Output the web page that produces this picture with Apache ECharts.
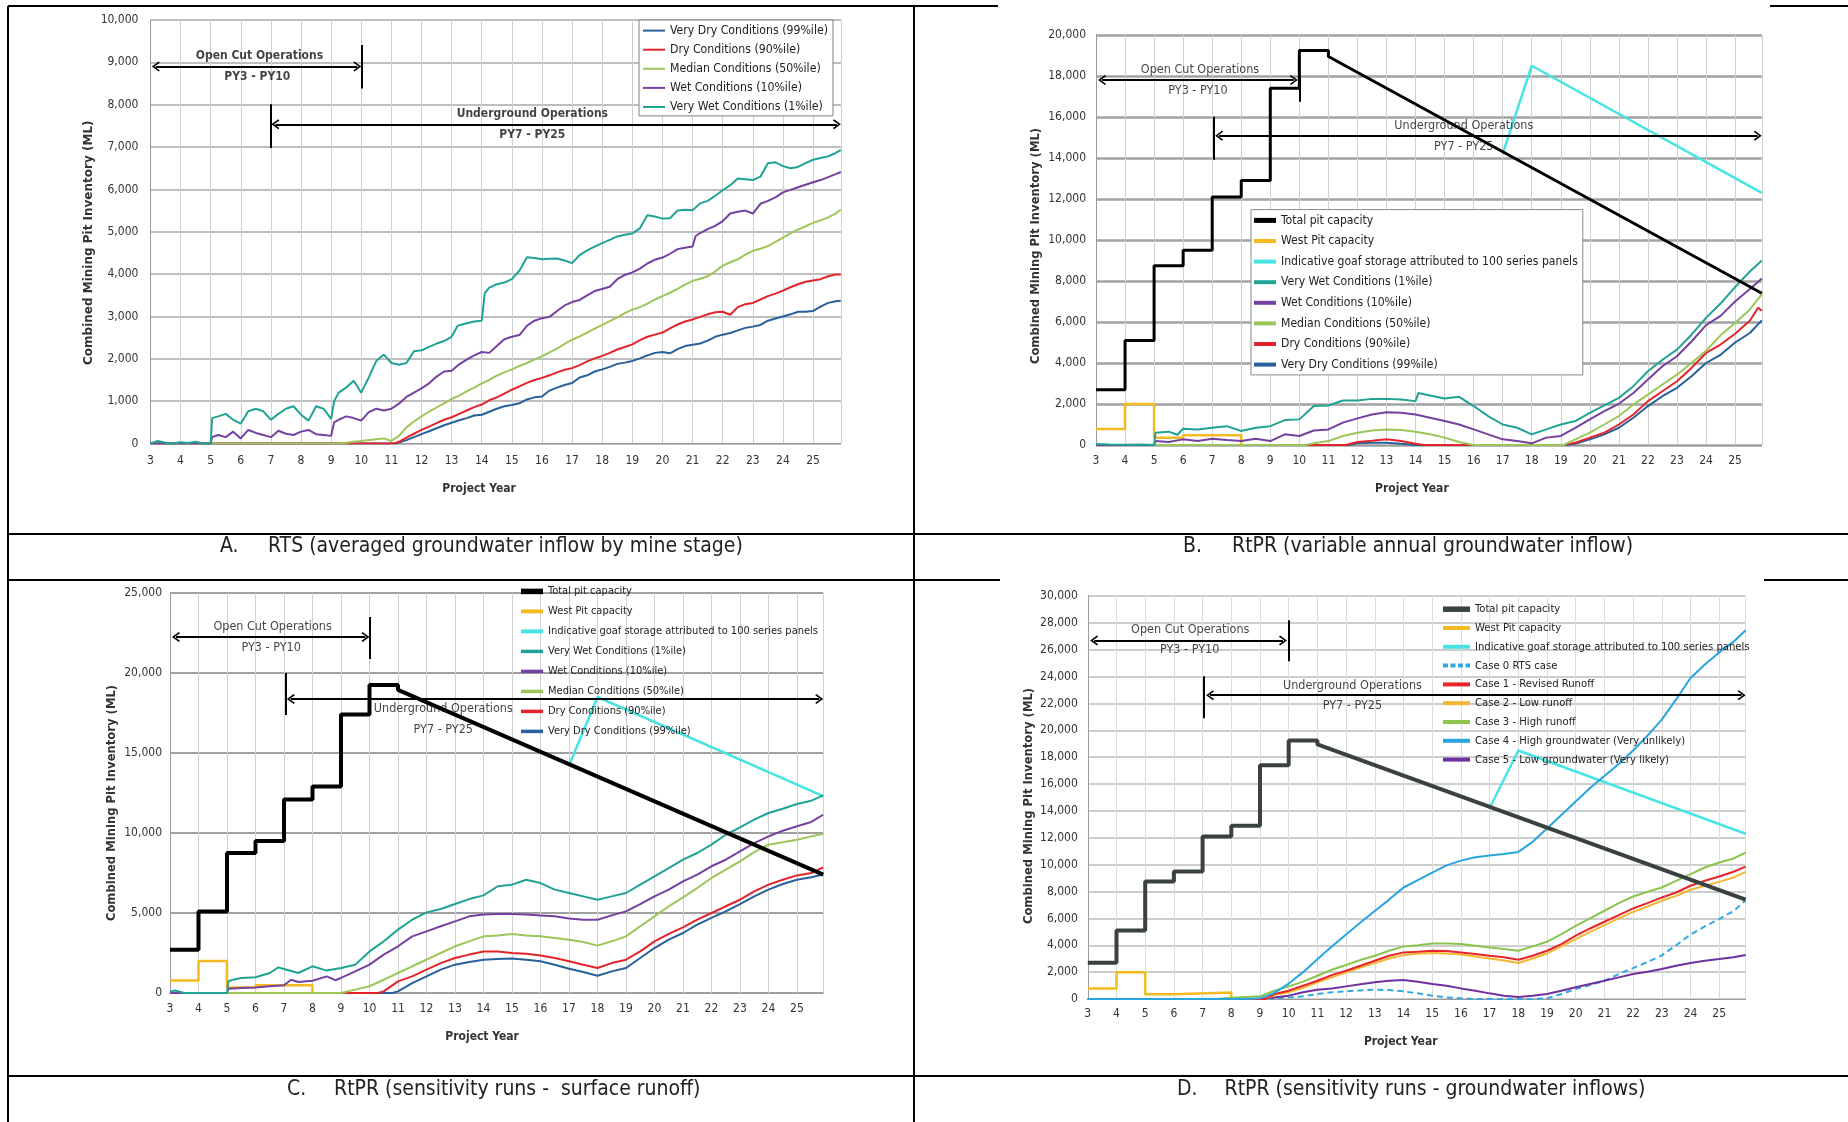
<!DOCTYPE html>
<html><head><meta charset="utf-8">
<script src="https://cdn.jsdelivr.net/npm/echarts@6/dist/echarts.min.js"></script>
<style>html,body{margin:0;padding:0;background:#fff}#c{width:1848px;height:1122px}</style>
</head><body><div id="c"></div>
<script>
// ---------------- DATA ----------------
const yearTicks = [3,4,5,6,7,8,9,10,11,12,13,14,15,16,17,18,19,20,21,22,23,24,25];
const yearEnd = 25.92;

// Panel A
const veryWetA = [[3,0],[3.25,60],[3.5,20],[3.75,0],[4,30],[4.25,10],[4.5,40],[4.75,0],[5,0],[5.05,600],[5.25,640],[5.5,700],[5.75,560],[6,470],[6.25,760],[6.5,820],[6.75,760],[7,560],[7.25,700],[7.5,820],[7.75,880],[8,680],[8.25,540],[8.5,880],[8.75,820],[9,580],[9.1,1000],[9.25,1200],[9.5,1320],[9.75,1480],[10,1200],[10.25,1560],[10.5,1950],[10.75,2100],[11,1900],[11.25,1860],[11.5,1900],[11.75,2180],[12,2200],[12.25,2280],[12.5,2360],[12.75,2420],[13,2520],[13.2,2780],[13.5,2840],[13.75,2880],[14,2900],[14.05,2870],[14.1,3550],[14.25,3680],[14.5,3760],[14.75,3800],[15,3880],[15.25,4080],[15.5,4400],[15.75,4380],[16,4350],[16.25,4360],[16.5,4370],[16.75,4320],[17,4260],[17.25,4450],[17.5,4560],[17.75,4650],[18,4730],[18.25,4810],[18.5,4890],[18.75,4930],[19,4960],[19.25,5080],[19.5,5390],[19.75,5360],[20,5310],[20.25,5320],[20.5,5500],[20.75,5520],[21,5510],[21.25,5670],[21.5,5730],[21.75,5850],[22,5980],[22.25,6100],[22.5,6260],[22.75,6240],[23,6220],[23.25,6300],[23.5,6620],[23.75,6640],[24,6550],[24.25,6500],[24.5,6530],[24.75,6620],[25,6700],[25.25,6740],[25.5,6780],[25.75,6860],[25.92,6930]];
const wetA = [[3,0],[5,0],[5.05,150],[5.25,200],[5.5,150],[5.75,280],[6,120],[6.25,320],[6.5,250],[6.75,200],[7,150],[7.25,300],[7.5,230],[7.75,200],[8,280],[8.25,320],[8.5,220],[8.75,200],[9,180],[9.1,500],[9.25,560],[9.5,640],[9.75,600],[10,540],[10.25,740],[10.5,820],[10.75,780],[11,820],[11.25,940],[11.5,1100],[11.75,1200],[12,1300],[12.25,1420],[12.5,1580],[12.75,1700],[13,1720],[13.25,1870],[13.5,1980],[13.75,2080],[14,2160],[14.25,2140],[14.5,2300],[14.75,2460],[15,2520],[15.25,2560],[15.5,2780],[15.75,2900],[16,2960],[16.25,2990],[16.5,3130],[16.75,3260],[17,3340],[17.25,3390],[17.5,3500],[17.75,3600],[18,3650],[18.25,3700],[18.5,3880],[18.75,3980],[19,4040],[19.25,4130],[19.5,4250],[19.75,4340],[20,4390],[20.25,4480],[20.5,4590],[20.75,4620],[21,4650],[21.1,4900],[21.25,4970],[21.5,5060],[21.75,5140],[22,5250],[22.25,5430],[22.5,5470],[22.75,5500],[23,5430],[23.25,5660],[23.5,5730],[23.75,5810],[24,5930],[24.25,5990],[24.5,6050],[24.75,6110],[25,6170],[25.25,6220],[25.5,6290],[25.75,6360],[25.92,6410]];
const medianA = [[3,0],[9.25,0],[9.5,20],[9.75,40],[10,60],[10.25,80],[10.5,100],[10.75,120],[11,60],[11.25,180],[11.5,380],[11.75,520],[12,640],[12.25,750],[12.5,850],[12.75,950],[13,1050],[13.25,1130],[13.5,1230],[13.75,1320],[14,1420],[14.25,1500],[14.5,1600],[14.75,1680],[15,1750],[15.25,1830],[15.5,1900],[15.75,1980],[16,2060],[16.25,2150],[16.5,2240],[16.75,2350],[17,2450],[17.25,2530],[17.5,2620],[17.75,2710],[18,2800],[18.25,2890],[18.5,2980],[18.75,3080],[19,3160],[19.25,3220],[19.5,3300],[19.75,3400],[20,3480],[20.25,3560],[20.5,3650],[20.75,3750],[21,3840],[21.25,3890],[21.5,3950],[21.75,4060],[22,4200],[22.25,4280],[22.5,4350],[22.75,4460],[23,4550],[23.25,4600],[23.5,4660],[23.75,4760],[24,4860],[24.25,4960],[24.5,5050],[24.75,5130],[25,5210],[25.25,5270],[25.5,5340],[25.75,5430],[25.92,5520]];
const dryA = [[3,0],[11.1,0],[11.25,40],[11.5,140],[11.75,230],[12,320],[12.25,400],[12.5,480],[12.75,560],[13,620],[13.25,700],[13.5,780],[13.75,860],[14,920],[14.25,1020],[14.5,1090],[14.75,1180],[15,1270],[15.25,1350],[15.5,1430],[15.75,1500],[16,1550],[16.25,1610],[16.5,1680],[16.75,1740],[17,1780],[17.25,1850],[17.5,1940],[17.75,2010],[18,2070],[18.25,2140],[18.5,2220],[18.75,2280],[19,2340],[19.25,2440],[19.5,2520],[19.75,2570],[20,2620],[20.25,2720],[20.5,2810],[20.75,2880],[21,2930],[21.25,2990],[21.5,3050],[21.75,3100],[22,3110],[22.25,3040],[22.5,3220],[22.75,3290],[23,3320],[23.25,3400],[23.5,3480],[23.75,3540],[24,3610],[24.25,3690],[24.5,3760],[24.75,3820],[25,3850],[25.25,3880],[25.5,3950],[25.75,3990],[25.92,3990]];
const veryDryA = [[3,0],[11.15,0],[11.25,20],[11.5,80],[11.75,150],[12,220],[12.25,290],[12.5,360],[12.75,430],[13,490],[13.25,550],[13.5,600],[13.75,660],[14,680],[14.25,750],[14.5,820],[14.75,880],[15,910],[15.25,950],[15.5,1040],[15.75,1090],[16,1110],[16.25,1250],[16.5,1320],[16.75,1380],[17,1430],[17.25,1560],[17.5,1610],[17.75,1700],[18,1750],[18.25,1810],[18.5,1880],[18.75,1910],[19,1950],[19.25,2010],[19.5,2080],[19.75,2140],[20,2160],[20.25,2130],[20.5,2230],[20.75,2300],[21,2330],[21.25,2360],[21.5,2430],[21.75,2520],[22,2570],[22.25,2610],[22.5,2670],[22.75,2730],[23,2760],[23.25,2800],[23.5,2900],[23.75,2950],[24,3000],[24.25,3050],[24.5,3110],[24.75,3110],[25,3130],[25.25,3230],[25.5,3320],[25.75,3360],[25.92,3370]];

// Capacities (shared by B, C, D)
const capYears = [3,4,5,6,7,8,9,10,11];
const capLevels = [2700,5100,8750,9500,12100,12900,17400,19250];
const capDeclineStart = [11, 18950];
const capDeclineEnd = [25.92, 7400];
const westYears = [3,4,5,6,8];
const westLevels = [780,2000,350,480];
const goaf = [[17,14200],[18,18500],[25.92,12300]];

// Panel B
const veryWetB = [[3,50],[3.5,20],[4,10],[4.5,20],[5,0],[5.05,600],[5.5,650],[5.8,500],[6,790],[6.5,760],[7,840],[7.5,920],[8,680],[8.5,840],[9,920],[9.5,1215],[10,1250],[10.5,1900],[11,1930],[11.5,2170],[12,2170],[12.5,2250],[13,2250],[13.5,2220],[14,2140],[14.1,2540],[14.5,2410],[15,2270],[15.5,2350],[16,1900],[16.5,1410],[17,1000],[17.5,840],[18,520],[18.5,760],[19,1000],[19.5,1170],[20,1570],[20.5,1930],[21,2300],[21.5,2870],[22,3600],[22.5,4160],[23,4650],[23.5,5380],[24,6200],[24.5,6900],[25,7700],[25.5,8450],[25.92,9000]];
const wetB = [[3,0],[5,0],[5.05,190],[5.5,150],[6,275],[6.5,190],[7,310],[7.5,240],[8,190],[8.5,310],[9,190],[9.5,520],[10,440],[10.5,710],[11,760],[11.5,1090],[12,1300],[12.5,1490],[13,1600],[13.5,1570],[14,1490],[14.5,1330],[15,1170],[15.5,1000],[16,760],[16.5,520],[17,275],[17.5,190],[18,80],[18.5,360],[19,440],[19.5,840],[20,1250],[20.5,1650],[21,2010],[21.5,2540],[22,3190],[22.5,3840],[23,4330],[23.5,5050],[24,5850],[24.5,6300],[25,7000],[25.5,7600],[25.92,8120]];
const medianB = [[3,0],[10.2,0],[10.5,80],[11,190],[11.5,440],[12,600],[12.5,710],[13,760],[13.5,730],[14,650],[14.5,520],[15,360],[15.5,150],[16,0],[19.1,0],[19.5,275],[20,600],[20.5,1000],[21,1410],[21.5,1980],[22,2460],[22.5,2950],[23,3430],[23.5,4000],[24,4600],[24.5,5350],[25,5950],[25.5,6600],[25.92,7350]];
const dryB = [[3,0],[11.6,0],[12,150],[12.5,210],[13,275],[13.5,190],[14,65],[14.3,0],[19.1,0],[19.5,110],[20,360],[20.5,600],[21,1000],[21.5,1490],[22,2140],[22.5,2620],[23,3110],[23.5,3760],[24,4490],[24.5,4900],[25,5430],[25.5,6050],[25.8,6700],[25.92,6550]];
const veryDryB = [[3,0],[11.7,0],[12,80],[12.5,110],[13,110],[13.5,65],[14,0],[19.2,0],[19.5,65],[20,275],[20.5,520],[21,840],[21.5,1330],[22,1900],[22.5,2380],[23,2790],[23.5,3350],[24,4000],[24.5,4400],[25,5000],[25.5,5450],[25.92,6080]];

// Panel C
const veryWetC = [[3,100],[3.2,150],[3.5,0],[5,0],[5.05,730],[5.2,830],[5.5,940],[6,980],[6.5,1250],[6.8,1600],[7,1500],[7.5,1250],[8,1670],[8.5,1400],[9,1560],[9.5,1770],[10,2600],[10.5,3230],[11,3960],[11.5,4580],[12,5040],[12.5,5250],[13,5560],[13.5,5870],[14,6100],[14.5,6670],[15,6770],[15.5,7080],[16,6870],[16.5,6460],[17,6250],[17.5,6040],[18,5830],[18.5,6040],[19,6250],[19.5,6770],[20,7290],[20.5,7810],[21,8330],[21.5,8750],[22,9270],[22.5,9890],[23,10350],[23.5,10830],[24,11250],[24.5,11520],[25,11810],[25.5,12020],[25.92,12350]];
const wetC = [[3,0],[5,0],[5.05,270],[5.5,310],[6,350],[6.5,420],[7,480],[7.25,830],[7.5,690],[8,770],[8.5,1040],[8.8,800],[9,940],[9.5,1350],[10,1770],[10.5,2400],[11,2920],[11.5,3540],[12,3850],[12.5,4170],[13,4480],[13.5,4790],[14,4900],[14.5,4940],[15,4940],[15.5,4900],[16,4850],[16.5,4790],[17,4650],[17.5,4580],[18,4580],[18.5,4850],[19,5100],[19.5,5560],[20,6040],[20.5,6460],[21,6980],[21.5,7400],[22,7920],[22.5,8330],[23,8850],[23.5,9370],[24,9790],[24.5,10140],[25,10420],[25.5,10690],[25.92,11140]];
const medianC = [[3,0],[9,0],[9.5,210],[10,420],[10.5,830],[11,1250],[11.5,1670],[12,2080],[12.5,2500],[13,2920],[13.5,3230],[14,3540],[14.5,3600],[15,3690],[15.5,3600],[16,3540],[16.5,3440],[17,3330],[17.5,3190],[18,2960],[18.5,3230],[19,3540],[19.5,4170],[20,4790],[20.5,5420],[21,5980],[21.5,6560],[22,7190],[22.5,7710],[23,8230],[23.5,8810],[24,9270],[24.5,9420],[25,9580],[25.5,9790],[25.92,9950]];
const dryC = [[3,0],[10.3,0],[10.5,100],[11,730],[11.5,1040],[12,1460],[12.5,1870],[13,2190],[13.5,2400],[14,2600],[14.5,2600],[15,2500],[15.5,2460],[16,2350],[16.5,2190],[17,1980],[17.5,1770],[18,1560],[18.5,1870],[19,2080],[19.5,2600],[20,3230],[20.5,3690],[21,4100],[21.5,4580],[22,5000],[22.5,5420],[23,5830],[23.5,6350],[24,6770],[24.5,7080],[25,7350],[25.5,7500],[25.92,7850]];
const veryDryC = [[3,0],[10.8,0],[11,100],[11.5,620],[12,1040],[12.5,1460],[13,1770],[13.5,1940],[14,2080],[14.5,2120],[15,2150],[15.5,2080],[16,1980],[16.5,1770],[17,1520],[17.5,1310],[18,1080],[18.5,1350],[19,1560],[19.5,2190],[20,2810],[20.5,3330],[21,3750],[21.5,4270],[22,4690],[22.5,5100],[23,5560],[23.5,6040],[24,6460],[24.5,6810],[25,7080],[25.5,7230],[25.92,7400]];

// Panel D
const case0D = [[3,0],[9.3,0],[9.5,50],[10,120],[10.5,200],[11,370],[11.5,500],[12,570],[12.5,640],[13,690],[13.5,670],[14,570],[14.5,420],[15,250],[15.5,120],[16,50],[16.5,0],[18.5,0],[19,50],[19.5,370],[20,740],[20.5,1040],[21,1360],[21.5,1860],[22,2300],[22.5,2750],[23,3250],[23.5,4000],[24,4800],[24.5,5400],[25,5950],[25.5,6550],[25.92,7350]];
const case1D = [[3,0],[9.2,0],[9.5,370],[10,620],[10.5,990],[11,1360],[11.5,1780],[12,2100],[12.5,2480],[13,2850],[13.5,3220],[14,3470],[14.5,3520],[15,3590],[15.5,3570],[16,3470],[16.5,3350],[17,3220],[17.5,3100],[18,2920],[18.5,3220],[19,3590],[19.5,4090],[20,4710],[20.5,5250],[21,5750],[21.5,6240],[22,6740],[22.5,7140],[23,7560],[23.5,7930],[24,8430],[24.5,8800],[25,9120],[25.5,9470],[25.92,9860]];
const case2D = [[3,0],[9.2,0],[9.5,300],[10,500],[10.5,840],[11,1240],[11.5,1610],[12,1980],[12.5,2350],[13,2680],[13.5,3020],[14,3270],[14.5,3370],[15,3420],[15.5,3390],[16,3320],[16.5,3170],[17,3020],[17.5,2870],[18,2680],[18.5,3020],[19,3390],[19.5,3915],[20,4460],[20.5,5000],[21,5500],[21.5,6000],[22,6490],[22.5,6890],[23,7310],[23.5,7680],[24,8130],[24.5,8430],[25,8720],[25.5,9040],[25.92,9470]];
const case3D = [[3,0],[7.5,0],[8,100],[8.5,150],[9,200],[9.5,620],[10,940],[10.5,1290],[11,1730],[11.5,2180],[12,2530],[12.5,2900],[13,3220],[13.5,3590],[14,3915],[14.5,4010],[15,4140],[15.5,4140],[16,4090],[16.5,3965],[17,3840],[17.5,3717],[18,3590],[18.5,3915],[19,4260],[19.5,4830],[20,5450],[20.5,6000],[21,6570],[21.5,7140],[22,7630],[22.5,7980],[23,8300],[23.5,8800],[24,9290],[24.5,9790],[25,10160],[25.5,10460],[25.92,10900]];
const case4D = [[3,0],[8.5,0],[9,50],[9.5,450],[10,1150],[10.5,2000],[11,2950],[11.5,3900],[12,4800],[12.5,5700],[13,6550],[13.5,7400],[14,8300],[14.5,8850],[15,9400],[15.5,9950],[16,10300],[16.5,10550],[17,10680],[17.5,10800],[18,10950],[18.5,11700],[19,12700],[19.5,13700],[20,14700],[20.5,15700],[21,16600],[21.5,17500],[22,18500],[22.5,19600],[23,20800],[23.5,22300],[24,23900],[24.5,24900],[25,25800],[25.5,26600],[25.92,27450]];
const case5D = [[3,0],[9,0],[9.5,120],[10,250],[10.5,500],[11,690],[11.5,790],[12,940],[12.5,1090],[13,1240],[13.5,1360],[14,1410],[14.5,1290],[15,1115],[15.5,990],[16,790],[16.5,620],[17,420],[17.5,250],[18,150],[18.5,250],[19,370],[19.5,620],[20,870],[20.5,1115],[21,1360],[21.5,1610],[22,1860],[22.5,2030],[23,2230],[23.5,2480],[24,2680],[24.5,2850],[25,2970],[25.5,3100],[25.92,3270]];

// Names / labels
const N = {
  vd:'Very Dry Conditions (99%ile)', d:'Dry Conditions (90%ile)', m:'Median Conditions (50%ile)',
  w:'Wet Conditions (10%ile)', vw:'Very Wet Conditions (1%ile)',
  cap:'Total pit capacity', west:'West Pit capacity', goaf:'Indicative goaf storage attributed to 100 series panels',
  c0:'Case 0 RTS case', c1:'Case 1 - Revised Runoff', c2:'Case 2 - Low runoff', c3:'Case 3 - High runoff',
  c4:'Case 4 - High groundwater (Very unlikely)', c5:'Case 5 - Low groundwater (Very likely)'
};
const captions = [
  ['A.', 'RTS (averaged groundwater inflow by mine stage)'],
  ['B.', 'RtPR (variable annual groundwater inflow)'],
  ['C.', 'RtPR (sensitivity runs -  surface runoff)'],
  ['D.', 'RtPR (sensitivity runs - groundwater inflows)']
];
const opText = ['Open Cut Operations','PY3 - PY10','Underground Operations','PY7 - PY25'];

// ---------------- BUILD ----------------
const COND = "'DejaVu Sans Condensed', 'DejaVu Sans', sans-serif";
const WIDE = "'DejaVu Sans', sans-serif";
const C = {vd:'#27609a', d:'#e3242b', m:'#9cc65a', w:'#7441a0', vw:'#20a394', cap:'#000', capD:'#3a4141', west:'#f5b921', goaf:'#46e4e4',
  c0:'#33a8df', c1:'#e8252b', c2:'#f4b731', c3:'#8dc44e', c4:'#28a5df', c5:'#7030a0'};

function steps(xs, ys){ const o=[]; for(let i=0;i<ys.length;i++){ o.push([xs[i],ys[i]],[xs[i+1],ys[i]]); } return o; }
const capData = steps(capYears, capLevels).concat([capDeclineStart, capDeclineEnd]);
const westData = steps(westYears, westLevels).concat([[westYears[westYears.length-1], 0]]);

const grids = [
  {left:150.4, top:20, width:690.4, height:423.5},
  {left:1096, top:35, width:665.8, height:410},
  {left:170, top:593, width:653.2, height:400},
  {left:1087.8, top:596, width:657.8, height:403}
];
const axCfg = [
  {ymax:10000, yint:1000, hc:'#a8a8a8', hw:1.5, vc:'#cfcfcf', ylm:12, xlm:11, ng:39.5, np:33, yng:56, ynp:22, yfs:12},
  {ymax:20000, yint:2000, hc:'#a2a2a2', hw:2.5, vc:'#d0d0d0', ylm:10, xlm:9.5, ng:38, np:34, yng:54, ynp:12, yfs:11.6},
  {ymax:25000, yint:5000, hc:'#a0a0a0', hw:2, vc:'#d0d0d0', ylm:8, xlm:10, ng:38, np:29, yng:52, ynp:20, yfs:11.6},
  {ymax:30000, yint:2000, hc:'#cdcdcd', hw:2, vc:'#dcdcdc', ylm:10, xlm:9, ng:37, np:32, yng:53, ynp:17, yfs:11.6}
];
const xAxes = axCfg.map((c,i)=>({
  gridIndex:i, type:'value', min:yearTicks[0], max:yearEnd, interval:1,
  axisLine:{show:true, onZero:false, lineStyle:{color:'#9a9a9a', width:1}}, axisTick:{show:false},
  axisLabel:{margin:c.xlm, color:'#333', fontFamily:COND, fontSize:12,
    formatter:v=>{ const r=Math.round(v); return (Math.abs(v-r)<1e-6 && yearTicks.indexOf(r)>=0) ? String(r) : ''; }},
  splitLine:{show:true, lineStyle:{color:c.vc, width:1}},
  name:'Project Year', nameLocation:'middle', nameGap:c.ng, nameMoveOverlap:false,
  nameTextStyle:{fontFamily:COND, fontWeight:'bold', fontSize:12, color:'#333', padding:[0,c.np,0,0]}
}));
const yAxes = axCfg.map((c,i)=>({
  gridIndex:i, type:'value', min:0, max:c.ymax, interval:c.yint,
  axisLine:{show:true, lineStyle:{color:'#9a9a9a', width:1}}, axisTick:{show:false},
  axisLabel:{margin:c.ylm, color:'#333', fontFamily:COND, fontSize:12, formatter:v=>v.toLocaleString('en-US')},
  splitLine:{show:true, lineStyle:{color:c.hc, width:c.hw}},
  name:'Combined Mining Pit Inventory (ML)', nameLocation:'middle', nameGap:c.yng, nameRotate:90, nameMoveOverlap:false,
  nameTextStyle:{fontFamily:WIDE, fontWeight:'bold', fontSize:c.yfs, color:'#333', padding:[0,c.ynp,0,0]}
}));

function ln(gi, name, data, color, width, extra){
  return Object.assign({type:'line', name, data, xAxisIndex:gi, yAxisIndex:gi, showSymbol:false, symbol:'none',
    lineStyle:{color, width}, itemStyle:{color}, silent:true, animation:false, z:3}, extra||{});
}

const ARROW = 'path://M5,0L10,8.6L8.8,10L5,3.2L1.2,10L0,8.6Z';
const annots = [
  {gi:0, bold:true, fs:12,
   lines:[[3.18,8900,9.87,8900,1],[10,8380,10,9410,0],[7,6975,7,8008,0],[7.15,7538,25.79,7538,1]],
   pos:[[6.62,9160],[6.55,8655],[15.68,7790],[15.68,7286]]},
  {gi:1, bold:false, fs:12.5,
   lines:[[3.21,17800,9.81,17800,1],[10,16750,10,17960,0],[7.06,13920,7.06,16015,0],[7.24,15090,25.78,15090,1]],
   pos:[[6.58,18290],[6.51,17280],[15.66,15575],[15.66,14565]]},
  {gi:2, bold:false, fs:12.5,
   lines:[[3.21,22250,9.86,22250,1],[10,20875,10,23500,0],[7.05,17375,7.05,20000,0],[7.24,18375,25.78,18375,1]],
   pos:[[6.6,22875],[6.55,21560],[12.59,17790],[12.59,16480]]},
  {gi:3, bold:false, fs:12.5,
   lines:[[3.22,26690,9.8,26690,1],[10,25150,10,28200,0],[7.05,20900,7.05,24030,0],[7.26,22620,25.78,22620,1]],
   pos:[[6.57,27480],[6.55,25970],[12.22,23310],[12.22,21830]]}
];
const annotSeries = annots.map(a=>({
  type:'scatter', xAxisIndex:a.gi, yAxisIndex:a.gi, clip:false, silent:true, animation:false, z:5,
  data:a.pos.map((p,k)=>[p[0],p[1],opText[k]]), symbolSize:1, itemStyle:{color:'rgba(0,0,0,0)'},
  label:{show:true, position:'inside', formatter:p=>p.data[2], color:'#111', fontFamily:COND, fontSize:a.fs, fontWeight:a.bold?'bold':'normal'},
  markLine:{silent:true, animation:false, symbolSize:[10,8], lineStyle:{color:'#000', width:2, type:'solid'}, label:{show:false},
    emphasis:{disabled:true},
    data:a.lines.map(l=>[{coord:[l[0],l[1]], symbol:l[4]?ARROW:'none'},{coord:[l[2],l[3]], symbol:l[4]?ARROW:'none'}])}
}));

const series = [
  // A
  ln(0,N.vd,veryDryA,C.vd,2), ln(0,N.d,dryA,C.d,2), ln(0,N.m,medianA,C.m,2), ln(0,N.w,wetA,C.w,2), ln(0,N.vw,veryWetA,C.vw,2),
  // B
  ln(1,N.west,westData,C.west,2.5), ln(1,N.goaf,goaf,C.goaf,2.5),
  ln(1,N.vd,veryDryB,C.vd,2), ln(1,N.d,dryB,C.d,2), ln(1,N.m,medianB,C.m,2), ln(1,N.w,wetB,C.w,2), ln(1,N.vw,veryWetB,C.vw,2),
  ln(1,N.cap,capData,C.cap,3),
  // C
  ln(2,N.west,westData,C.west,2.5), ln(2,N.goaf,goaf,C.goaf,2.5),
  ln(2,N.vd,veryDryC,C.vd,2), ln(2,N.d,dryC,C.d,2), ln(2,N.m,medianC,C.m,2), ln(2,N.w,wetC,C.w,2), ln(2,N.vw,veryWetC,C.vw,2),
  ln(2,N.cap,capData,C.cap,4),
  // D
  ln(3,N.west,westData,C.west,2.5), ln(3,N.goaf,goaf,C.goaf,2.5),
  ln(3,N.c0,case0D,C.c0,2,{lineStyle:{color:C.c0,width:2,type:[6,4]}}),
  ln(3,N.c5,case5D,C.c5,2), ln(3,N.c2,case2D,C.c2,2), ln(3,N.c1,case1D,C.c1,2), ln(3,N.c3,case3D,C.c3,2), ln(3,N.c4,case4D,C.c4,2),
  ln(3,N.cap,capData,C.capD,4)
].concat(annotSeries);

const bar = (w,h)=>`path://M0,0h${w}v${h}h-${w}z`;
const dash = 'path://M0,0h5v4h-5zM7.5,0h5v4h-5zM15,0h5v4h-5zM22.5,0h4.5v4h-4.5z';
function lg(cfg, items){
  return {show:true, orient:'vertical', left:cfg.left, top:cfg.top, itemWidth:cfg.iw, itemHeight:14, itemGap:cfg.gap,
    padding:cfg.pad, backgroundColor:cfg.bg, borderColor:cfg.bc||'transparent', borderWidth:cfg.bw||0, borderRadius:0,
    selectedMode:false, z:4, textStyle:{fontFamily:COND, fontSize:cfg.fs, color:'#222'}, itemStyle:{borderWidth:0},
    data:items.map(it=>({name:it[0], icon:it[2], itemStyle:{color:it[1], borderWidth:0}}))};
}
const legends = [
  lg({left:639, top:20, iw:22, gap:7.1, pad:[4.6,5,2.9,4], bg:'#fff', bc:'#808080', bw:1, fs:12.2},
     [[N.vd,C.vd,bar(22,2)],[N.d,C.d,bar(22,2)],[N.m,C.m,bar(22,2)],[N.w,C.w,bar(22,2)],[N.vw,C.vw,bar(22,2)]]),
  lg({left:1251, top:209.6, iw:22, gap:8.6, pad:[4.8,5,4.3,3], bg:'#fff', bc:'#8a8a8a', bw:1, fs:12.1},
     [[N.cap,C.cap,bar(22,5)],[N.west,C.west,bar(22,4)],[N.goaf,C.goaf,bar(22,4)],[N.vw,C.vw,bar(22,4)],[N.w,C.w,bar(22,4)],[N.m,C.m,bar(22,4)],[N.d,C.d,bar(22,4)],[N.vd,C.vd,bar(22,4)]]),
  lg({left:521, top:585.9, iw:22, gap:9, pad:0, bg:'transparent', fs:11},
     [[N.cap,C.cap,bar(22,5.5)],[N.west,C.west,bar(22,4)],[N.goaf,C.goaf,bar(22,4)],[N.vw,C.vw,bar(22,3.5)],[N.w,C.w,bar(22,3.5)],[N.m,C.m,bar(22,3.5)],[N.d,C.d,bar(22,3.5)],[N.vd,C.vd,bar(22,3.5)]]),
  lg({left:1443, top:603.7, iw:27, gap:7.8, pad:0, bg:'transparent', fs:11.2},
     [[N.cap,C.capD,bar(27,5.5)],[N.west,C.west,bar(27,4)],[N.goaf,C.goaf,bar(27,4)],[N.c0,C.c0,dash],[N.c1,C.c1,bar(27,4)],[N.c2,C.c2,bar(27,4)],[N.c3,C.c3,bar(27,4)],[N.c4,C.c4,bar(27,4)],[N.c5,C.c5,bar(27,4)]])
];

// Table frame + captions
const frame = [[8,6,8,1122],[914,6,914,1122],[8,6,998,6],[1770,6,1848,6],[8,534,1848,534],[8,580,1000,580],[1764,580,1848,580],[8,1076,1848,1076]];
const capPos = [[220,268,547],[1183,1232,547],[287,334,1090],[1177,1224.5,1090]];
const graphic = frame.map(f=>({type:'line', silent:true, z:10, shape:{x1:f[0],y1:f[1],x2:f[2],y2:f[3]}, style:{stroke:'#000', lineWidth:2}}));
captions.forEach((c,i)=>{
  const p = capPos[i];
  graphic.push({type:'text', silent:true, x:p[0], y:p[2], style:{text:c[0], font:`21px ${COND}`, fill:'#222', align:'left', verticalAlign:'middle'}});
  graphic.push({type:'text', silent:true, x:p[1], y:p[2], style:{text:c[1], font:`21px ${COND}`, fill:'#222', align:'left', verticalAlign:'middle'}});
});

const chart = echarts.init(document.getElementById('c'), null, {renderer:'canvas', width:1848, height:1122});
chart.setOption({
  animation:false, backgroundColor:'#fff',
  grid:grids.map(g=>Object.assign({containLabel:false, outerBoundsMode:'none'}, g)),
  xAxis:xAxes, yAxis:yAxes, legend:legends, series, graphic
});
</script></body></html>
